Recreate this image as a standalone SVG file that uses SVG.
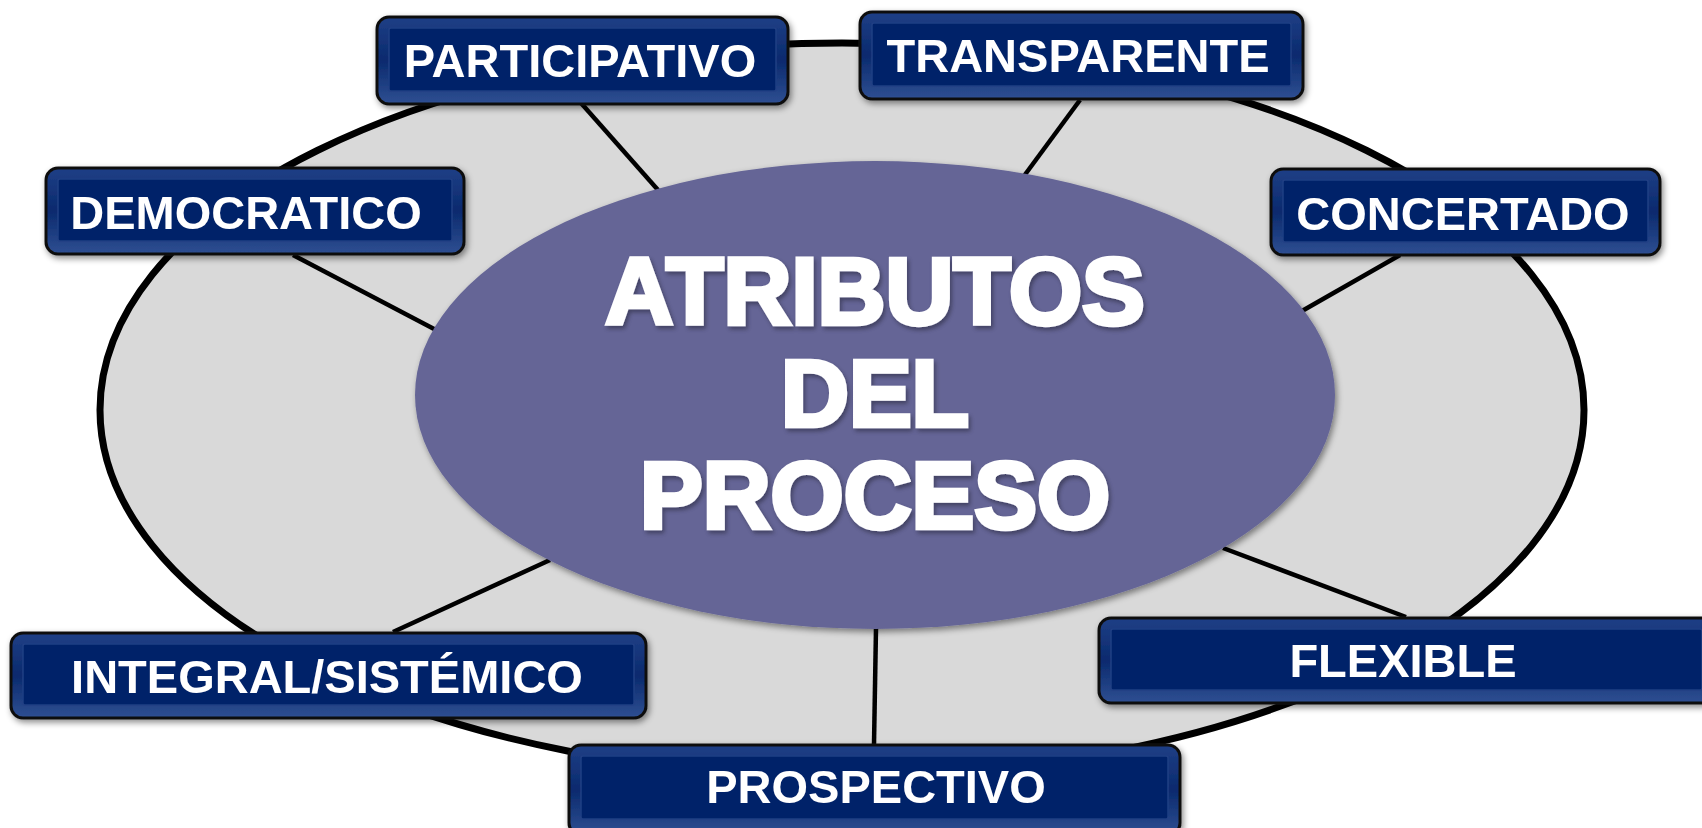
<svg xmlns="http://www.w3.org/2000/svg" width="1702" height="828" viewBox="0 0 1702 828">
<defs>
<filter id="sh" x="-10%" y="-10%" width="120%" height="130%">
<feDropShadow dx="2" dy="3" stdDeviation="3" flood-color="#000" flood-opacity="0.45"/>
</filter>
<filter id="tsh" x="-5%" y="-5%" width="110%" height="120%">
<feDropShadow dx="2" dy="3" stdDeviation="2" flood-color="#000" flood-opacity="0.35"/>
</filter>
<linearGradient id="bev" x1="0" y1="0" x2="0" y2="1">
<stop offset="0" stop-color="#1f3f86"/>
<stop offset="0.5" stop-color="#0a2a6e"/>
<stop offset="1" stop-color="#2f4f92"/>
</linearGradient>
</defs>
<style>
.box{fill:url(#bev);stroke:#111;stroke-width:3}
.inner{fill:#062469;stroke:#213f84;stroke-width:1.5}
.lbl{font-family:"Liberation Sans",Arial,sans-serif;font-weight:bold;font-size:47px;fill:#fff;text-anchor:middle}
.title{font-family:"Liberation Sans",Arial,sans-serif;font-weight:bold;font-size:94px;fill:#fff;stroke:#fff;stroke-width:4.5;stroke-linejoin:miter;text-anchor:middle}
.con{stroke:#000;stroke-width:4.5;fill:none}
</style>
<rect width="1702" height="828" fill="#fff"/>
<ellipse id="outer" cx="842" cy="410" rx="742" ry="367" fill="#d9d9d9" stroke="#000" stroke-width="7"/>
<g id="connectors">
<line class="con" x1="581" y1="103" x2="658" y2="190"/>
<line class="con" x1="1080" y1="100" x2="1024" y2="176"/>
<line class="con" x1="293" y1="255" x2="436" y2="330"/>
<line class="con" x1="1400" y1="255" x2="1302" y2="311"/>
<line class="con" x1="550" y1="560" x2="393" y2="632"/>
<line class="con" x1="1223" y1="548" x2="1406" y2="617"/>
<line class="con" x1="876" y1="628" x2="874" y2="744"/>
</g>
<g id="center" filter="url(#sh)">
<ellipse cx="875" cy="395" rx="460" ry="234" fill="#656596"/>
<g filter="url(#tsh)">
<text class="title" x="875" y="324">ATRIBUTOS</text>
<text class="title" x="875" y="426">DEL</text>
<text class="title" x="875" y="528">PROCESO</text>
</g>
</g>
<g id="participativo" filter="url(#sh)">
<rect class="box" x="377" y="17" width="411" height="87" rx="12"/>
<rect class="inner" x="389" y="28" width="387" height="63" rx="2"/>
<text class="lbl" x="580" y="77">PARTICIPATIVO</text>
</g>
<g id="transparente" filter="url(#sh)">
<rect class="box" x="860" y="12" width="443" height="87" rx="12"/>
<rect class="inner" x="872" y="23" width="419" height="63" rx="2"/>
<text class="lbl" x="1078" y="72">TRANSPARENTE</text>
</g>
<g id="democratico" filter="url(#sh)">
<rect class="box" x="46" y="168" width="418" height="86" rx="12"/>
<rect class="inner" x="58" y="179" width="394" height="62" rx="2"/>
<text class="lbl" x="246" y="229">DEMOCRATICO</text>
</g>
<g id="concertado" filter="url(#sh)">
<rect class="box" x="1271" y="169" width="389" height="86" rx="12"/>
<rect class="inner" x="1283" y="180" width="365" height="62" rx="2"/>
<text class="lbl" x="1463" y="230">CONCERTADO</text>
</g>
<g id="integral" filter="url(#sh)">
<rect class="box" x="11" y="633" width="635" height="85" rx="12"/>
<rect class="inner" x="23" y="644" width="611" height="61" rx="2"/>
<text class="lbl" x="327" y="693">INTEGRAL/SISTÉMICO</text>
</g>
<g id="flexible" filter="url(#sh)">
<rect class="box" x="1099" y="618" width="615" height="85" rx="12"/>
<rect class="inner" x="1111" y="629" width="591" height="61" rx="2"/>
<text class="lbl" x="1403" y="677">FLEXIBLE</text>
</g>
<g id="prospectivo" filter="url(#sh)">
<rect class="box" x="569" y="745" width="611" height="90" rx="12"/>
<rect class="inner" x="581" y="756" width="587" height="63" rx="2"/>
<text class="lbl" x="876" y="803">PROSPECTIVO</text>
</g>
</svg>
